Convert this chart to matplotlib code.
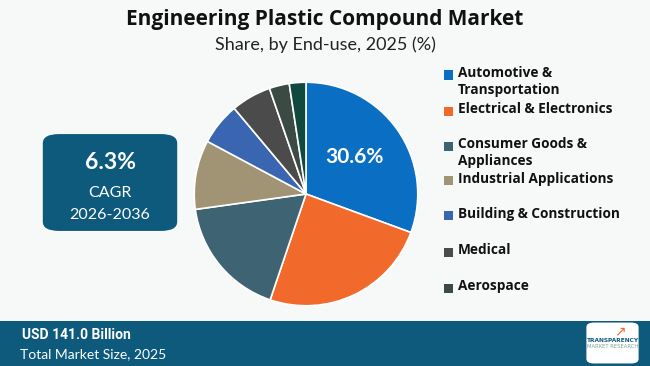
import matplotlib.pyplot as plt
from matplotlib.patches import FancyBboxPatch, Rectangle

# data
segments = ['Automotive &\nTransportation', 'Electrical & Electronics',
            'Consumer Goods &\nAppliances', 'Industrial Applications',
            'Building & Construction', 'Medical', 'Aerospace', 'Others']
shares = [30.6, 24.6, 17.6, 10.0, 6.1, 5.8, 2.9, 2.4]
colors = ['#0a6fc3', '#f26a2b', '#3e6474', '#a09475', '#3a65b0',
          '#4b4b4b', '#3b4a43', '#11493f']
legend_y = [75, 111, 146, 181, 216, 252, 288]   # pixel rows of legend entries

W, H = 650, 366
bg = '#f7f8f8'
navy = '#0d5a7d'

fig = plt.figure(figsize=(6.5, 3.66), dpi=100, facecolor=bg)

def fx(x): return x / W
def fy(y): return 1 - y / H

# titles
fig.text(0.5, fy(20), 'Engineering Plastic Compound Market', ha='center', va='center',
         fontsize=15, fontweight='bold', family='Open Sans', color='#111111')
fig.text(0.5, fy(45), 'Share, by End-use, 2025 (%)', ha='center', va='center',
         fontsize=13, family='Lato', color='#222222')

# pie
cx, cy, r = 306, 194, 114
ax = fig.add_axes([fx(cx - r), fy(cy + r), 2 * r / W, 2 * r / H])
ax.pie(shares, colors=colors, startangle=90, counterclock=False, radius=1,
       wedgeprops=dict(edgecolor='white', linewidth=1.2))
ax.set_xlim(-1.02, 1.02)
ax.set_ylim(-1.02, 1.02)
ax.set_aspect('equal')
ax.axis('off')
ax.text(0.43, 0.33, f'{shares[0]}%', ha='center', va='center', color='white',
        fontsize=15, fontweight='bold', family='Lato')

# legend (first 7 segments)
for lab, col, y in zip(segments[:7], colors[:7], legend_y):
    fig.add_artist(Rectangle((fx(444), fy(y + 4.5)), 9 / W, 9 / H,
                             transform=fig.transFigure, color=col, lw=0))
    fig.text(fx(458), fy(y - 9), lab, ha='left', va='top', fontsize=9.8,
             fontweight='bold', family='Open Sans', color='#111111',
             linespacing=1.3)

# CAGR box
fig.add_artist(FancyBboxPatch((fx(48), fy(228)), 124 / W, 91 / H,
                              boxstyle='round,pad=0.008,rounding_size=0.025',
                              transform=fig.transFigure, facecolor=navy, edgecolor='none'))
fig.text(fx(110), fy(163), '6.3%', ha='center', va='center', color='white',
         fontsize=16.5, fontweight='bold', family='Lato')
fig.text(fx(110), fy(193), 'CAGR', ha='center', va='center', color='white',
         fontsize=11.5, family='Lato')
fig.text(fx(110), fy(215), '2026-2036', ha='center', va='center', color='white',
         fontsize=11.5, family='Lato')

# bottom band
fig.add_artist(Rectangle((0, 0), 1, fy(321), transform=fig.transFigure,
                         facecolor=navy, edgecolor='none'))
fig.text(fx(22), fy(335), 'USD 141.0 Billion', ha='left', va='center', color='white',
         fontsize=10, fontweight='bold', family='Roboto', stretch='condensed')
fig.text(fx(20), fy(354), 'Total Market Size, 2025', ha='left', va='center', color='white',
         fontsize=10, family='Lato')

# logo
fig.add_artist(FancyBboxPatch((fx(589), fy(362)), 47 / W, 38 / H,
                              boxstyle='round,pad=0.004,rounding_size=0.012',
                              transform=fig.transFigure, facecolor='white', edgecolor='none'))
fig.text(fx(612.5), fy(341), 'TRANSPARENCY', ha='center', va='center', color=navy,
         fontsize=4.2, fontweight='bold')
fig.text(fx(612.5), fy(347), 'MARKET RESEARCH', ha='center', va='center', color='#7aa890',
         fontsize=3.8)
fig.text(fx(620), fy(331), '\u2197', ha='center', va='center', color='#f26a2b', fontsize=10)

fig.savefig('out.png', dpi=100, facecolor=bg)
